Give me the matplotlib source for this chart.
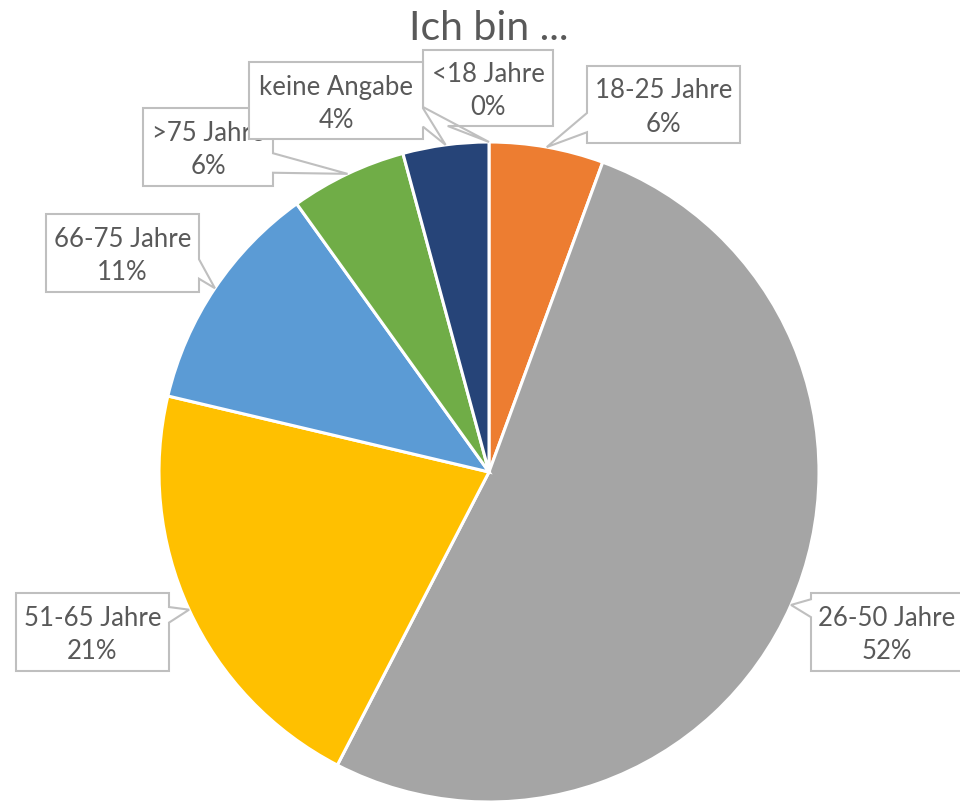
import numpy as np
import matplotlib
matplotlib.use("Agg")
import matplotlib.pyplot as plt
from matplotlib.patches import Polygon

# age groups and shares (%)
labels = ["<18 Jahre", "18-25 Jahre", "26-50 Jahre", "51-65 Jahre",
          "66-75 Jahre", ">75 Jahre", "keine Angabe"]
shares = [0.0, 5.6, 52.0, 21.1, 11.4, 5.7, 4.2]
colors = ["#4472C4", "#ED7D31", "#A5A5A5", "#FFC000",
          "#5B9BD5", "#70AD47", "#264478"]

W, H = 960, 802
CX, CY, R = 489, 472, 330   # pie centre / radius in screen pixels (y down)

# callout boxes in screen px (x0, y0, x1, y1) and pointer base on perimeter
boxes = [(423, 50, 553, 126), (587, 66, 740, 143), (811, 593, 962, 671),
         (16, 593, 169, 671), (46, 214, 199, 292), (143, 108, 273, 186),
         (249, 62, 423, 139)]
bases = [(2.81, 3.25), (3.14, 3.39), (3.69, 3.92), (1.18, 1.38),
         (1.58, 1.83), (1.58, 1.83), (1.60, 1.84)]

FONT = "Lato"
TXT = "#595959"


def flip(p):
    return (p[0], H - p[1])


def callout(ax, box, tip, base, lines, z):
    x0, y0, x1, y1 = box
    corners = [(x0, y0), (x1, y0), (x1, y1), (x0, y1)]

    def perim(t):
        k = int(np.floor(t)) % 4
        f = t - np.floor(t)
        a = np.array(corners[k])
        b = np.array(corners[(k + 1) % 4])
        return tuple(a + f * (b - a))

    t1, t2 = base
    pts = [perim(t2)]
    k = int(np.floor(t2)) + 1
    while k < t1 + 4:
        pts.append(corners[k % 4])
        k += 1
    pts.append(perim(t1))
    pts.append(tip)
    poly = Polygon([flip(p) for p in pts], closed=True, facecolor="white",
                   edgecolor="#BFBFBF", linewidth=1.5, zorder=z)
    ax.add_patch(poly)
    xc = (x0 + x1) / 2
    yc = (y0 + y1) / 2
    ax.text(xc, H - (yc - 6), lines[0], ha="center", va="baseline",
            fontsize=18.5, color=TXT, family=FONT, zorder=z + 0.5)
    ax.text(xc, H - (yc + 27), lines[1], ha="center", va="baseline",
            fontsize=18.5, color=TXT, family=FONT, zorder=z + 0.5)


fig = plt.figure(figsize=(W / 100, H / 100), dpi=100)
ax = fig.add_axes([0, 0, 1, 1])
ax.set_xlim(0, W)
ax.set_ylim(0, H)
ax.axis("off")

ax.pie(shares, colors=colors, startangle=90, counterclock=False,
       center=(CX, H - CY), radius=R,
       wedgeprops=dict(edgecolor="white", linewidth=2.2))
ax.set_xlim(0, W)
ax.set_ylim(0, H)
ax.set_aspect("auto")

total = sum(shares)
cum = np.cumsum([0] + shares[:-1])
for i, lab in enumerate(labels):
    a = np.deg2rad(360 * (cum[i] + shares[i] / 2) / total)
    tip = (CX + R * np.sin(a), CY - R * np.cos(a))
    pct = f"{round(shares[i] / total * 100):.0f}%"
    callout(ax, boxes[i], tip, bases[i], (lab, pct), 3 + i)

ax.text(CX, H - 40, "Ich bin ...", ha="center", va="baseline",
        fontsize=29.5, color=TXT, family=FONT)

fig.savefig("out.png", dpi=100)
